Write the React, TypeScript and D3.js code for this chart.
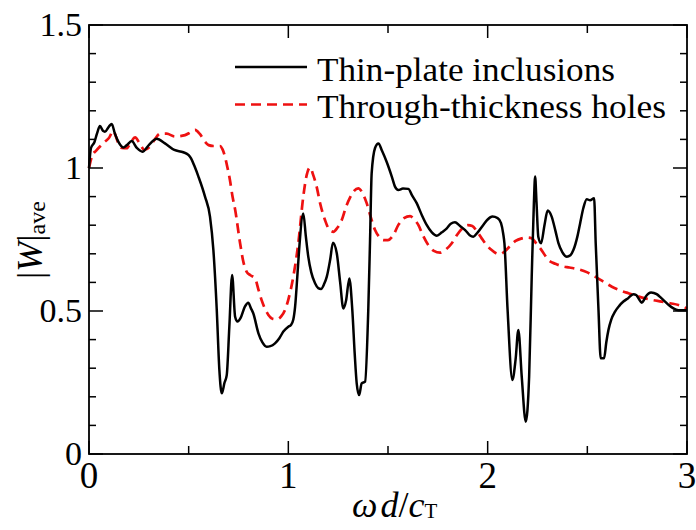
import React from "react";
import * as d3 from "d3";

// Thin-plate inclusions (solid black)
const plateX = [0, 0.01, 0.027, 0.04, 0.055, 0.07, 0.08, 0.1, 0.114, 0.13, 0.147, 0.172, 0.19, 0.214, 0.24, 0.268, 0.3, 0.34, 0.381, 0.428, 0.473, 0.5, 0.512, 0.53, 0.549, 0.582, 0.607, 0.624, 0.641, 0.654, 0.666, 0.68, 0.691, 0.704, 0.718, 0.733, 0.745, 0.76, 0.782, 0.799, 0.812, 0.824, 0.85, 0.87, 0.891, 0.91, 0.933, 0.955, 0.975, 1.0, 1.013, 1.025, 1.034, 1.045, 1.054, 1.075, 1.088, 1.1, 1.115, 1.134, 1.15, 1.164, 1.18, 1.193, 1.21, 1.224, 1.243, 1.26, 1.276, 1.29, 1.306, 1.321, 1.333, 1.343, 1.355, 1.368, 1.385, 1.401, 1.41, 1.418, 1.435, 1.452, 1.47, 1.494, 1.519, 1.535, 1.552, 1.575, 1.602, 1.62, 1.644, 1.67, 1.694, 1.72, 1.745, 1.77, 1.795, 1.815, 1.836, 1.86, 1.887, 1.91, 1.928, 1.95, 1.978, 2.0, 2.024, 2.05, 2.067, 2.078, 2.084, 2.1, 2.124, 2.14, 2.154, 2.171, 2.191, 2.208, 2.221, 2.232, 2.238, 2.245, 2.254, 2.268, 2.285, 2.301, 2.321, 2.34, 2.355, 2.375, 2.397, 2.415, 2.43, 2.45, 2.464, 2.48, 2.497, 2.514, 2.534, 2.542, 2.556, 2.567, 2.584, 2.595, 2.606, 2.62, 2.639, 2.66, 2.681, 2.705, 2.731, 2.745, 2.756, 2.773, 2.785, 2.793, 2.82, 2.848, 2.87, 2.89, 2.91, 2.932, 2.957, 3.0];
const plateY = [1.0, 1.07, 1.09, 1.12, 1.147, 1.13, 1.127, 1.145, 1.154, 1.12, 1.092, 1.072, 1.08, 1.094, 1.07, 1.057, 1.08, 1.102, 1.086, 1.063, 1.055, 1.045, 1.034, 1.005, 0.97, 0.9, 0.83, 0.713, 0.503, 0.294, 0.212, 0.25, 0.276, 0.445, 0.626, 0.48, 0.463, 0.475, 0.515, 0.529, 0.51, 0.492, 0.422, 0.39, 0.375, 0.377, 0.387, 0.405, 0.428, 0.445, 0.451, 0.47, 0.515, 0.62, 0.713, 0.841, 0.76, 0.69, 0.635, 0.597, 0.58, 0.577, 0.595, 0.62, 0.68, 0.739, 0.702, 0.6, 0.509, 0.538, 0.614, 0.503, 0.35, 0.247, 0.206, 0.247, 0.253, 0.503, 0.75, 0.981, 1.07, 1.086, 1.06, 1.02, 0.97, 0.935, 0.923, 0.928, 0.927, 0.905, 0.877, 0.835, 0.801, 0.775, 0.763, 0.775, 0.789, 0.805, 0.81, 0.798, 0.783, 0.765, 0.76, 0.775, 0.801, 0.82, 0.83, 0.825, 0.807, 0.77, 0.737, 0.503, 0.259, 0.33, 0.434, 0.27, 0.113, 0.27, 0.62, 0.88, 0.97, 0.88, 0.76, 0.737, 0.8, 0.851, 0.83, 0.78, 0.737, 0.705, 0.69, 0.695, 0.713, 0.76, 0.807, 0.86, 0.891, 0.887, 0.894, 0.737, 0.503, 0.335, 0.335, 0.39, 0.434, 0.47, 0.498, 0.518, 0.533, 0.545, 0.559, 0.556, 0.545, 0.529, 0.54, 0.55, 0.565, 0.559, 0.546, 0.533, 0.52, 0.509, 0.503, 0.503];

// Through-thickness holes (dashed red)
const holeX = [0, 0.017, 0.035, 0.055, 0.08, 0.1, 0.122, 0.135, 0.147, 0.165, 0.189, 0.21, 0.231, 0.255, 0.278, 0.306, 0.33, 0.356, 0.39, 0.431, 0.482, 0.51, 0.532, 0.555, 0.582, 0.6, 0.624, 0.657, 0.67, 0.682, 0.695, 0.707, 0.72, 0.733, 0.758, 0.775, 0.791, 0.81, 0.833, 0.85, 0.866, 0.885, 0.9, 0.92, 0.942, 0.965, 0.983, 1.0, 1.025, 1.05, 1.075, 1.092, 1.109, 1.125, 1.142, 1.16, 1.184, 1.205, 1.226, 1.245, 1.268, 1.29, 1.31, 1.33, 1.351, 1.37, 1.393, 1.415, 1.435, 1.455, 1.477, 1.5, 1.527, 1.552, 1.58, 1.611, 1.632, 1.652, 1.675, 1.702, 1.73, 1.761, 1.79, 1.82, 1.845, 1.873, 1.9, 1.923, 1.945, 1.97, 1.995, 2.02, 2.04, 2.062, 2.085, 2.112, 2.14, 2.171, 2.2, 2.221, 2.245, 2.271, 2.305, 2.34, 2.372, 2.41, 2.455, 2.5, 2.539, 2.58, 2.623, 2.665, 2.706, 2.75, 2.79, 2.83, 2.873, 2.915, 2.957, 3.0];
const holeY = [1.0, 1.045, 1.06, 1.075, 1.092, 1.105, 1.13, 1.11, 1.086, 1.07, 1.069, 1.09, 1.107, 1.085, 1.063, 1.075, 1.1, 1.12, 1.12, 1.11, 1.115, 1.125, 1.133, 1.12, 1.092, 1.08, 1.077, 1.077, 1.065, 1.04, 1.0, 0.958, 0.9, 0.855, 0.737, 0.67, 0.637, 0.625, 0.614, 0.575, 0.538, 0.505, 0.486, 0.473, 0.471, 0.482, 0.503, 0.54, 0.62, 0.737, 0.9, 0.975, 1.002, 0.975, 0.935, 0.875, 0.818, 0.785, 0.777, 0.79, 0.818, 0.865, 0.897, 0.92, 0.929, 0.915, 0.877, 0.825, 0.783, 0.76, 0.748, 0.748, 0.766, 0.801, 0.825, 0.832, 0.82, 0.801, 0.765, 0.731, 0.71, 0.704, 0.715, 0.737, 0.765, 0.789, 0.8, 0.797, 0.78, 0.754, 0.73, 0.713, 0.703, 0.699, 0.708, 0.727, 0.745, 0.754, 0.757, 0.754, 0.735, 0.712, 0.678, 0.665, 0.657, 0.652, 0.646, 0.635, 0.62, 0.603, 0.585, 0.572, 0.562, 0.552, 0.544, 0.538, 0.533, 0.527, 0.521, 0.509];

const xMajorTicks = [0, 1, 2, 3];
const xTickLabels = ["0", "1", "2", "3"];
const yMajorTicks = [0, 0.5, 1, 1.5];
const yTickLabels = ["0", "0.5", "1", "1.5"];
const legendLabels = ["Thin-plate inclusions", "Through-thickness holes"];

const W = 696;
const H = 530;
const L = 89, R = 687, T = 25, B = 454;
const txt: React.CSSProperties = { fontFamily: "Liberation Serif, Times New Roman, serif" };

export default function App() {
  const x = d3.scaleLinear().domain([0, 3]).range([L, R]);
  const y = d3.scaleLinear().domain([0, 1.5]).range([B, T]);
  const line = d3
    .line<[number, number]>()
    .x((d) => x(d[0]))
    .y((d) => y(d[1]))
    .curve(d3.curveMonotoneX);
  const plate = plateX.map((v, i) => [v, plateY[i]] as [number, number]);
  const hole = holeX.map((v, i) => [v, holeY[i]] as [number, number]);

  const xMinor = d3.range(0.5, 3, 1);
  const yMinor = d3.range(0, 16).map((i) => i / 10).filter((v) => Math.round(v * 10) % 5 !== 0);

  return (
    <svg width={W} height={H} style={{ position: "absolute", left: 0, top: 0, background: "#fff" }}>
      <rect x={0} y={0} width={W} height={H} fill="#fff" />
      {/* curves */}
      <path d={line(hole) || ""} fill="none" stroke="#ee1111" strokeWidth={2.7} strokeDasharray="10,6" />
      <path d={line(plate) || ""} fill="none" stroke="#000" strokeWidth={2.5} strokeLinejoin="round" />
      {/* frame */}
      <rect x={L} y={T} width={R - L} height={B - T} fill="none" stroke="#000" strokeWidth={1.8} />
      {/* x ticks */}
      {xMajorTicks.map((v) => (
        <g key={"xm" + v}>
          <line x1={x(v)} x2={x(v)} y1={B} y2={B - 13} stroke="#000" strokeWidth={1.5} />
          <line x1={x(v)} x2={x(v)} y1={T} y2={T + 13} stroke="#000" strokeWidth={1.5} />
        </g>
      ))}
      {xMinor.map((v) => (
        <g key={"xn" + v}>
          <line x1={x(v)} x2={x(v)} y1={B} y2={B - 8} stroke="#000" strokeWidth={1.5} />
          <line x1={x(v)} x2={x(v)} y1={T} y2={T + 8} stroke="#000" strokeWidth={1.5} />
        </g>
      ))}
      {/* y ticks */}
      {yMajorTicks.map((v) => (
        <g key={"ym" + v}>
          <line x1={L} x2={L + 14} y1={y(v)} y2={y(v)} stroke="#000" strokeWidth={1.5} />
          <line x1={R} x2={R - 14} y1={y(v)} y2={y(v)} stroke="#000" strokeWidth={1.5} />
        </g>
      ))}
      {yMinor.map((v) => (
        <g key={"yn" + v}>
          <line x1={L} x2={L + 7} y1={y(v)} y2={y(v)} stroke="#000" strokeWidth={1.5} />
          <line x1={R} x2={R - 7} y1={y(v)} y2={y(v)} stroke="#000" strokeWidth={1.5} />
        </g>
      ))}
      {/* tick labels */}
      {xMajorTicks.map((v, i) => (
        <text key={"xl" + v} x={x(v)} y={488} textAnchor="middle" fontSize={37} fill="#000" style={txt}>
          {xTickLabels[i]}
        </text>
      ))}
      {yMajorTicks.map((v, i) => (
        <text key={"yl" + v} x={82} y={y(v) + 11} textAnchor="end" fontSize={34} fill="#000" style={txt}>
          {yTickLabels[i]}
        </text>
      ))}
      {/* axis titles */}
      <text x={352} y={517} fontSize={36} fill="#000" style={txt}>
        <tspan fontStyle="italic">ω</tspan>
        <tspan fontStyle="italic" dx={3}>d</tspan>
        <tspan>/</tspan>
        <tspan fontStyle="italic">c</tspan>
        <tspan fontSize={21} dy={1}>T</tspan>
      </text>
      <text transform="translate(42,240) rotate(-90)" textAnchor="middle" fontSize={36} fill="#000" style={txt}>
        <tspan>|</tspan>
        <tspan fontStyle="italic">W</tspan>
        <tspan>|</tspan>
        <tspan fontSize={24} dy={3}>ave</tspan>
      </text>
      {/* legend */}
      <line x1={235} x2={307} y1={67} y2={67} stroke="#000" strokeWidth={2.5} />
      <text x={317} y={80.5} fontSize={33.5} fill="#000" style={txt} textLength={298} lengthAdjust="spacingAndGlyphs">
        {legendLabels[0]}
      </text>
      <line x1={235} x2={307} y1={104.5} y2={104.5} stroke="#ee1111" strokeWidth={2.7} strokeDasharray="10,6" />
      <text x={317} y={118} fontSize={33.5} fill="#000" style={txt} textLength={349} lengthAdjust="spacingAndGlyphs">
        {legendLabels[1]}
      </text>
    </svg>
  );
}
